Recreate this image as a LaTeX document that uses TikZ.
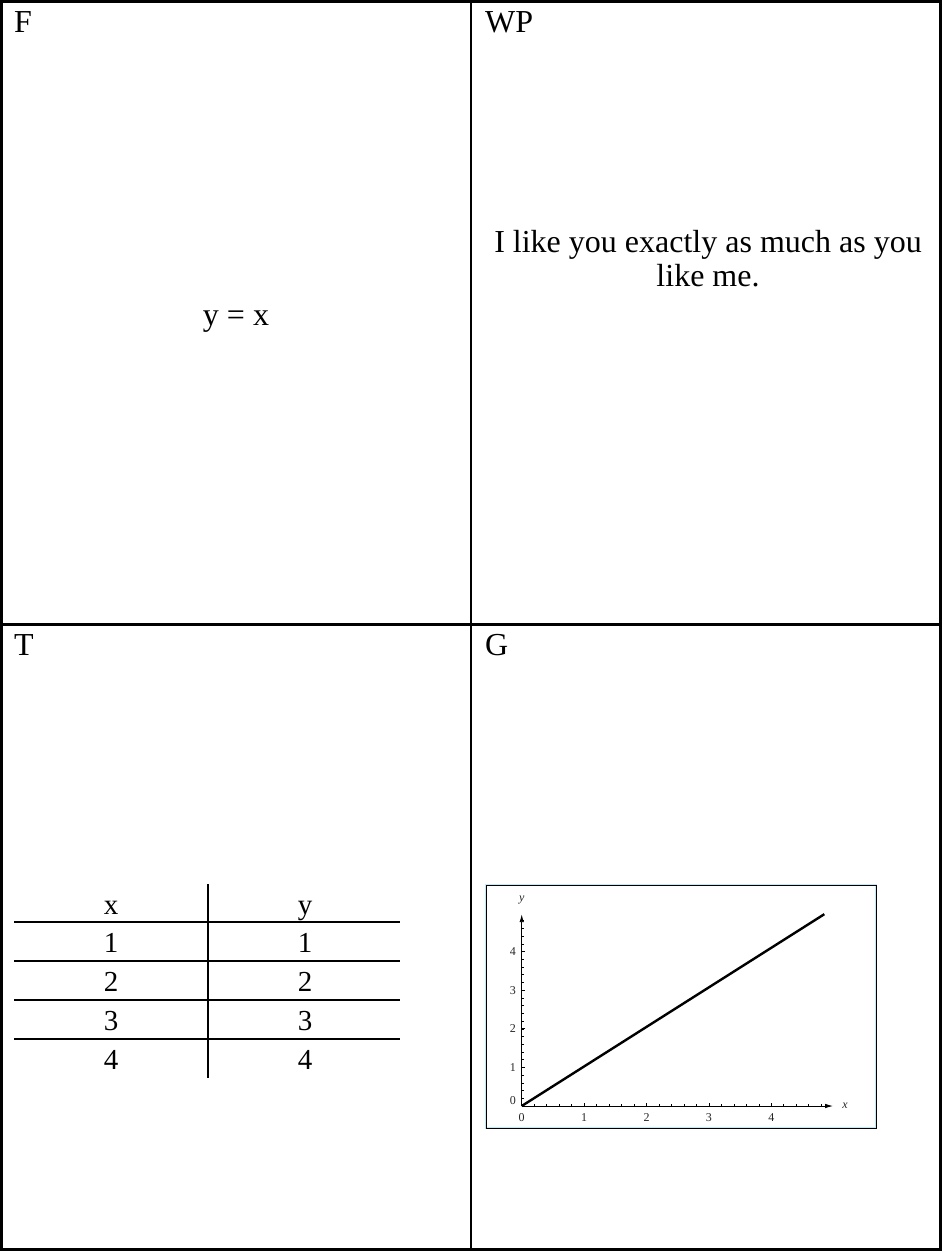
\documentclass[tikz,border=0pt]{standalone}
\usepackage{fontspec}
\setmainfont{Liberation Serif}
\usetikzlibrary{arrows.meta}
\begin{document}
\begin{tikzpicture}[x=1pt,y=-1pt,
  lbl/.style={font=\fontsize{32}{36}\selectfont, inner sep=0pt, anchor=base west},
  body/.style={font=\fontsize{32}{36}\selectfont, inner sep=0pt, anchor=base},
  cell/.style={font=\fontsize{29}{30}\selectfont, inner sep=0pt, anchor=base},
  trule/.style={line width=2.4pt},
  ticklbl/.style={font=\fontsize{12}{13}\selectfont, inner sep=0pt, text=black!85},
  axis/.style={line width=0.9pt, -{Latex[length=8pt,width=4.5pt]}},
]
\useasboundingbox (0,0) rectangle (942,1251);
% frame and dividers
\draw[line width=3pt] (1.5,1.5) rectangle (940.5,1249.5);
\draw[line width=2.4pt] (471,0) -- (471,1251);
\draw[line width=2.4pt] (0,624.5) -- (942,624.5);
% section labels
\node[lbl] (lF) at (14,32) {F};
\node[lbl] (lWP) at (485,32) {WP};
\node[lbl] (lT) at (14,655) {T};
\node[lbl] (lG) at (485,655) {G};
% F
\node[body] (eq) at (236,325) {y = x};
% WP
\node[body] (wp1) at (708,252) {I like you exactly as much as you};
\node[body] (wp2) at (708,286) {like me.};
% T table
\draw[line width=2pt] (208,884) -- (208,1078);
\foreach \yy in {922,961,1000,1039} \draw[trule] (14,\yy) -- (400,\yy);
\node[cell] (hx) at (111,914) {x};
\node[cell] (hy) at (305,914) {y};
\foreach \v/\yy in {1/952.5,2/991.5,3/1030.5,4/1069} {
  \node[cell] (cx\v) at (111,\yy) {\v};
  \node[cell] (cy\v) at (305,\yy) {\v};
}
% G graph
\draw[cyan!25, line width=2.5pt] (486,885) rectangle (876,1128);
\draw[black, line width=0.9pt] (486,885) rectangle (876,1128);
\begin{scope}[shift={(521.7pt,-1106pt)}, x=62.4pt, y=38.6pt]
  \coordinate (O) at (0,0);
  \coordinate (xe) at (4.99,0);
  \coordinate (ye) at (0,4.97);
  \coordinate (le) at (4.85,4.97);
  \foreach \i in {1,...,24} \draw[line width=0.6pt] (\i/5,0) -- ++(0,2pt);
  \foreach \i in {1,...,24} \draw[line width=0.6pt] (0,\i/5) -- ++(2pt,0);
  \foreach \i in {1,...,4} {
    \draw[line width=0.8pt] (\i,0) -- ++(0,3.5pt);
    \draw[line width=0.8pt] (0,\i) -- ++(3.5pt,0);
    \node[ticklbl] (xl\i) at (\i,-0.29) {\i};
    \node[ticklbl] (yl\i) at (-0.14,\i) {\i};
  }
  \node[ticklbl] (xl0) at (0,-0.29) {0};
  \node[ticklbl] (yl0) at (-0.14,0.13) {0};
  \draw[axis] (O) -- (xe);
  \draw[axis] (O) -- (ye);
  \draw[line width=2.4pt] (O) -- (le);
  \node[ticklbl, font=\fontsize{12}{13}\selectfont\itshape] (xlab) at (5.18,0) {x};
  \node[ticklbl, font=\fontsize{12}{13}\selectfont\itshape] (ylab) at (0,5.34) {y};
\end{scope}
\end{tikzpicture}
\end{document}
